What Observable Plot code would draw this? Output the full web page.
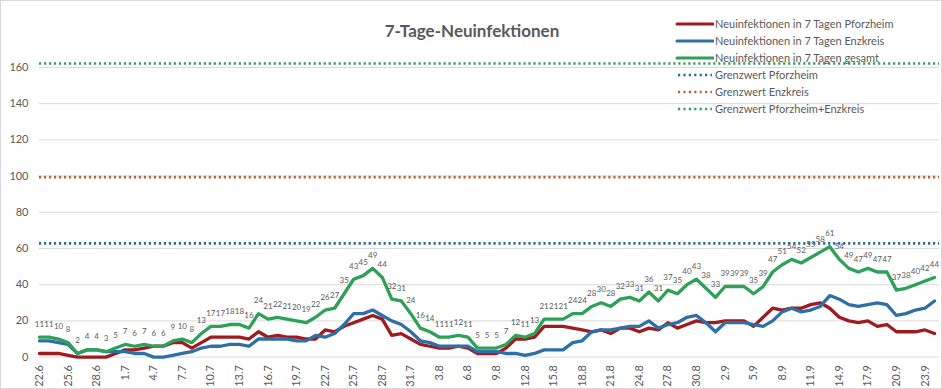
<!DOCTYPE html>
<html><head><meta charset="utf-8">
<script src="https://cdn.jsdelivr.net/npm/d3@7"></script>
<script src="https://cdn.jsdelivr.net/npm/@observablehq/plot@0.6"></script>
<style>
body{margin:0;background:#fff;}
#wrap{position:relative;width:942px;height:389px;overflow:hidden;font-family:Lato,"Liberation Sans",sans-serif;box-sizing:border-box;border:1px solid #d9d9d9;}
#chart{position:absolute;left:-1px;top:-1px;}
#title{position:absolute;left:0;width:942px;top:19px;text-align:center;font-weight:bold;font-size:17px;color:#595959;}
#legend{position:absolute;left:674px;top:14px;font-size:11px;color:#595959;}
.row{height:17px;display:flex;align-items:center;white-space:nowrap;}
.row svg{margin-right:1px;}
</style></head><body>
<div id="wrap"><div id="chart"></div><div id="title">7-Tage-Neuinfektionen</div><div id="legend"></div></div>
<script>
const startDay = [2020, 5, 22];
const pforzheim = [
  2,2,2,1,0,0,0,0,2,
  4,4,5,6,6,8,8,5,8,11,11,11,11,10,14,11,12,11,11,10,10,15,14,17,19,21,23,21,12,13,10,
  7,6,5,5,6,5,2,2,2,5,10,10,11,17,17,17,16,15,14,15,13,16,16,14,16,15,19,16,18,20,19,
  19,20,20,20,17,22,27,26,27,27,29,30,27,22,20,19,20,17,18,14,14,14,15,13];
const enzkreis = [
  9,9,8,7,2,4,4,3,3,
  3,2,2,0,0,1,2,3,5,6,6,7,7,6,10,10,10,10,9,9,12,11,13,18,24,24,26,23,20,18,14,
  9,8,6,6,6,6,3,3,3,2,2,1,2,4,4,4,8,9,14,15,15,16,17,17,20,16,18,19,22,23,19,
  14,19,19,19,18,17,20,25,27,25,26,28,34,32,29,28,29,30,29,23,24,26,27,31];
const gesamt = [
  11,11,10,8,2,4,4,3,5,
  7,6,7,6,6,9,10,8,13,17,17,18,18,16,24,21,22,21,20,19,22,26,27,35,43,45,49,44,32,31,24,
  16,14,11,11,12,11,5,5,5,7,12,11,13,21,21,21,24,24,28,30,28,32,33,31,36,31,37,35,40,43,38,
  33,39,39,39,35,39,47,51,54,52,55,58,61,54,49,47,49,47,47,37,38,40,42,44];
const grenzwerte = [
  {name:"Grenzwert Pforzheim", value:62.8, color:"#2b6a8a"},
  {name:"Grenzwert Enzkreis", value:99.4, color:"#b5663f"},
  {name:"Grenzwert Pforzheim+Enzkreis", value:162.2, color:"#3d9a5e"}];
const seriesNames = ["Neuinfektionen in 7 Tagen Pforzheim","Neuinfektionen in 7 Tagen Enzkreis","Neuinfektionen in 7 Tagen gesamt"];
const seriesColors = ["#9e1b1f","#2e6fa6","#2ea057"];
const yTicks = [0,20,40,60,80,100,120,140,160];
const tickLabels = ["22.6","25.6","28.6","1.7","4.7","7.7","10.7","13.7","16.7","19.7","22.7","25.7","28.7","31.7","3.8","6.8","9.8","12.8","15.8","18.8","21.8","24.8","27.8","30.8","2.9","5.9","8.9","11.9","14.9","17.9","20.9","23.9"];

const day0 = new Date(Date.UTC(...startDay));
const dates = gesamt.map((_, i) => d3.utcDay.offset(day0, i));
const tickDates = tickLabels.map(s => { const [d, m] = s.split(".").map(Number); return new Date(Date.UTC(2020, m - 1, d)); });
const rows = [];
[pforzheim, enzkreis, gesamt].forEach((arr, k) => arr.forEach((v, i) => rows.push({date: dates[i], value: v, series: seriesNames[k]})));
const gData = dates.map((d, i) => ({date: d, value: gesamt[i]}));

const chart = Plot.plot({
  width: 942, height: 389,
  marginLeft: 39, marginRight: 7, marginTop: 67, marginBottom: 32,
  style: {fontFamily: "Lato, 'Liberation Sans', sans-serif", color: "#595959", background: "transparent"},
  x: {type: "utc", domain: [dates[0], dates[dates.length - 1]]},
  y: {domain: [0, 160]},
  marks: [
    Plot.ruleY(yTicks, {stroke: "#d9d9d9", strokeWidth: 1, insetRight: -5}),
    Plot.axisY({ticks: yTicks, tickSize: 0, tickPadding: 11, fontSize: 11, label: null}),
    Plot.axisX({ticks: tickDates, tickFormat: d => `${d.getUTCDate()}.${d.getUTCMonth() + 1}`, tickRotate: -90, tickSize: 0, tickPadding: 8, fontSize: 11, label: null}),
    Plot.line(rows, {x: "date", y: "value", z: "series", stroke: "series", strokeWidth: 3.3, strokeLinejoin: "round"}),
    Plot.ruleY(grenzwerte, {y: "value", stroke: "color", strokeWidth: 2.6, strokeDasharray: "2.2,2.8", insetRight: -5}),
    Plot.text(gData, {x: "date", y: "value", text: "value", dy: -13, fontSize: 8, fill: "#595959", style: "letter-spacing:-0.3px"})
  ],
  color: {domain: seriesNames, range: seriesColors}
});
document.getElementById("chart").appendChild(chart);

const legend = document.getElementById("legend");
seriesNames.forEach((n, i) => {
  const r = document.createElement("div"); r.className = "row";
  r.innerHTML = `<svg width="39" height="6"><line x1="2" x2="38" y1="3" y2="3" stroke="${seriesColors[i]}" stroke-width="3" stroke-linecap="round"/></svg><span>${n}</span>`;
  legend.appendChild(r);
});
grenzwerte.forEach(g => {
  const r = document.createElement("div"); r.className = "row";
  r.innerHTML = `<svg width="39" height="6"><line x1="3" x2="37" y1="3" y2="3" stroke="${g.color}" stroke-width="2.4" stroke-dasharray="2.2,3.2"/></svg><span>${g.name}</span>`;
  legend.appendChild(r);
});
</script></body></html>
